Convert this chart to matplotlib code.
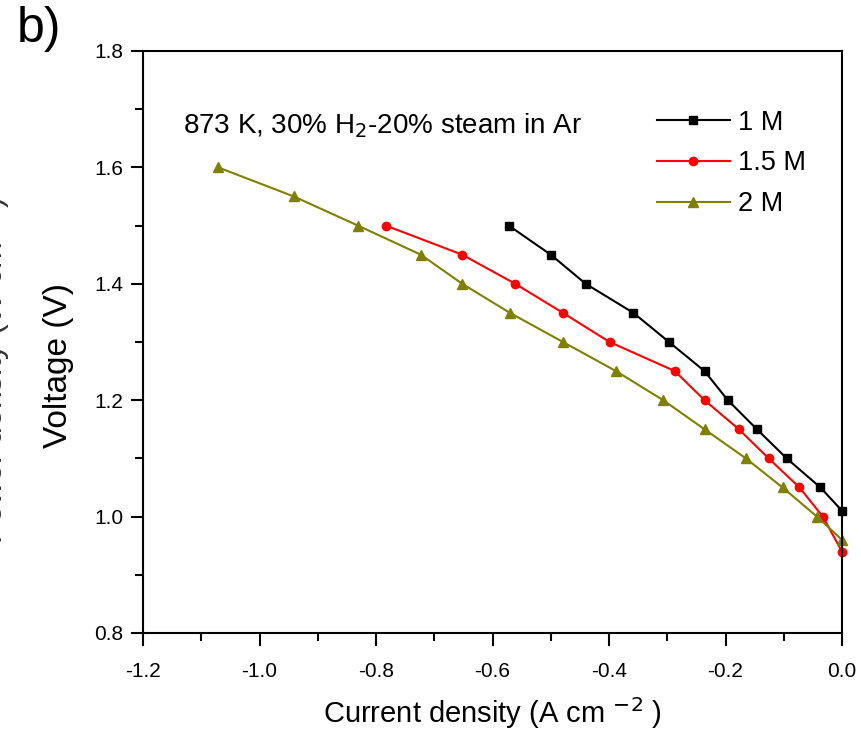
import numpy as np
import matplotlib
matplotlib.use("Agg")
from matplotlib import pyplot as plt
from matplotlib.ticker import MultipleLocator, FormatStrFormatter

plt.rcParams['font.family'] = ['Liberation Sans', 'DejaVu Sans']

# 1 M
j_1M = [-0.572, -0.500, -0.440, -0.358, -0.297, -0.236, -0.196, -0.146, -0.095, -0.037, 0.0]
v_1M = [1.50, 1.45, 1.40, 1.35, 1.30, 1.25, 1.20, 1.15, 1.10, 1.05, 1.01]
# 1.5 M
j_15M = [-0.783, -0.652, -0.561, -0.479, -0.399, -0.287, -0.236, -0.177, -0.126, -0.073, -0.033, 0.0]
v_15M = [1.50, 1.45, 1.40, 1.35, 1.30, 1.25, 1.20, 1.15, 1.10, 1.05, 1.00, 0.94]
# 2 M
j_2M = [-1.071, -0.941, -0.831, -0.723, -0.652, -0.570, -0.479, -0.388, -0.307, -0.236, -0.165, -0.102, -0.043, 0.0]
v_2M = [1.60, 1.55, 1.50, 1.45, 1.40, 1.35, 1.30, 1.25, 1.20, 1.15, 1.10, 1.05, 1.00, 0.96]

fig = plt.figure(figsize=(8.62, 7.40), dpi=100)
ax = fig.add_axes([0.1659, 0.1446, 0.8109, 0.7865])

ax.plot(j_1M, v_1M, color='black', marker='s', ms=6, lw=1.5, label='1 M', clip_on=False)
ax.plot(j_15M, v_15M, color='red', marker='o', ms=6, lw=1.5, label='1.5 M', clip_on=False)
ax.plot(j_2M, v_2M, color='#808000', marker='^', ms=7, lw=1.5, label='2 M', clip_on=False)

ax.set_xlim(-1.2, 0.0)
ax.set_ylim(0.8, 1.8)
ax.xaxis.set_major_locator(MultipleLocator(0.2))
ax.xaxis.set_minor_locator(MultipleLocator(0.1))
ax.yaxis.set_major_locator(MultipleLocator(0.2))
ax.yaxis.set_minor_locator(MultipleLocator(0.1))
ax.xaxis.set_major_formatter(FormatStrFormatter('%.1f'))
ax.yaxis.set_major_formatter(FormatStrFormatter('%.1f'))
ax.tick_params(which='major', direction='out', length=9, width=1.5, labelsize=15, pad=5)
ax.tick_params(which='minor', direction='out', length=6, width=1.5)
ax.tick_params(axis='x', which='major', pad=12)
for s in ax.spines.values():
    s.set_linewidth(1.5)

ax.set_xlabel('Current density (A cm $^{-2}$ )', fontsize=21, labelpad=10)
ax.set_ylabel('Voltage (V)', fontsize=24)
ax.yaxis.set_label_coords(-0.099, 0.46)

ax.text(-1.131, 1.658, '873 K, 30% H$_2$-20% steam in Ar', fontsize=20, va='baseline')

ax.legend(loc='upper left', bbox_to_anchor=(0.762, 0.852), bbox_transform=fig.transFigure,
          frameon=False, fontsize=19.5, borderpad=0, borderaxespad=0,
          handlelength=2.7, handletextpad=0.3, labelspacing=0.55)

fig.text(17 / 862, 1 - 6 / 740, 'b)', fontsize=36, va='top')
# left panel's label, mostly cut off by the edge as in the figure
fig.text(0.0145, 0.50, 'Power density (W cm$^{-2}$)', fontsize=23, rotation=90,
         va='center', ha='right', color='#333333')

fig.savefig('out.png', dpi=100)
